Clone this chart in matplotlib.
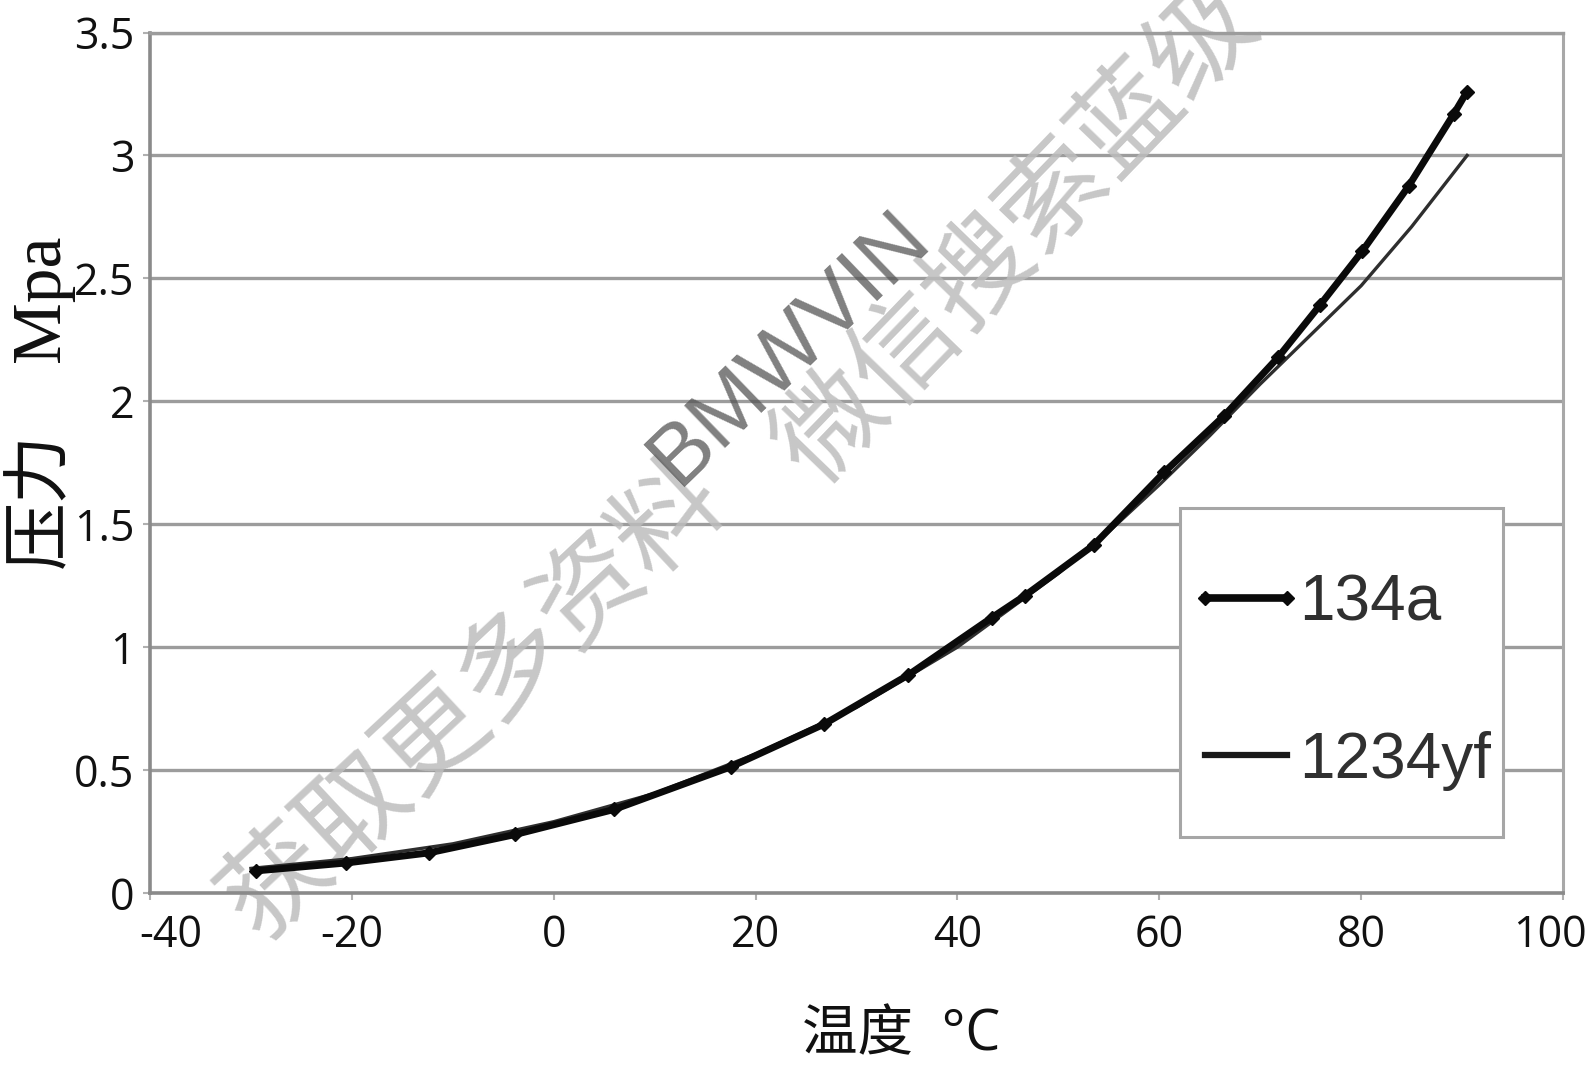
import numpy as np
import matplotlib.pyplot as plt
from matplotlib.patches import Rectangle
from matplotlib.lines import Line2D
from matplotlib.legend_handler import HandlerLine2D
from matplotlib.transforms import ScaledTranslation

# saturation pressure vs temperature for the two refrigerants
temp_134a = [-29.5, -20.6, -12.4, -3.8, 6.0, 17.6, 26.8, 35.1, 43.4, 46.7,
             53.5, 60.5, 66.4, 71.8, 75.9, 80.1, 84.7, 89.2, 90.5]
p_134a = [0.09, 0.122, 0.163, 0.238, 0.34, 0.514, 0.687, 0.886, 1.12, 1.21,
          1.415, 1.712, 1.94, 2.18, 2.39, 2.61, 2.875, 3.17, 3.26]

temp_1234yf = [-30, -20, -10, 0, 10, 20, 30, 40, 45, 50, 55, 60, 65, 70,
               75, 80, 85, 90.5]
p_1234yf = [0.10, 0.14, 0.20, 0.29, 0.405, 0.565, 0.755, 1.0, 1.15, 1.30,
            1.47, 1.66, 1.86, 2.07, 2.27, 2.47, 2.71, 3.0]

x_ticks = [-40, -20, 0, 20, 40, 60, 80, 100]
x_labels = ['-40', '-20', '0', '20', '40', '60', '80', '100']
y_ticks = [0, 0.5, 1, 1.5, 2, 2.5, 3, 3.5]
y_labels = ['0', '0.5', '1', '1.5', '2', '2.5', '3', '3.5']

W, H = 1592, 1065
fig = plt.figure(figsize=(W / 100, H / 100), dpi=100)
ax = fig.add_axes([150 / W, 1 - 893 / H, (1563 - 150) / W, (893 - 32.5) / H])

ax.set_xlim(-40, 100)
ax.set_ylim(0, 3.5)

# horizontal grid
for yv in y_ticks[1:]:
    ax.axhline(yv, color='#9c9c9c', lw=2.4, zorder=1)

ax.plot(temp_1234yf, p_1234yf, color='#2e2e2e', lw=2.4, zorder=3, label='1234yf')
ax.plot(temp_134a, p_134a, color='#0a0a0a', lw=5, marker='D', ms=7,
        zorder=4, label='134a')

for side in ['left', 'bottom']:
    ax.spines[side].set_color('#8a8a8a')
    ax.spines[side].set_linewidth(2.6)
ax.spines['top'].set_color('#9c9c9c')
ax.spines['top'].set_linewidth(2.4)
ax.spines['right'].set_color('#a8a8a8')
ax.spines['right'].set_linewidth(2.2)

tick_font = dict(family='Open Sans', size=31, color='#111111')
ax.set_xticks(x_ticks)
ax.set_xticklabels(x_labels, fontdict=tick_font)
ax.set_yticks(y_ticks)
ax.set_yticklabels(y_labels, fontdict=tick_font)
ax.tick_params(axis='both', colors='#b0b0b0', length=5, width=1.5, labelcolor='#111111')
ax.tick_params(axis='x', pad=10)
ax.tick_params(axis='y', pad=6)

# end labels are kept inside the chart area
xt = ax.get_xticklabels()
xt[0].set_transform(xt[0].get_transform() + ScaledTranslation(15 / 72, 0, fig.dpi_scale_trans))
xt[-1].set_transform(xt[-1].get_transform() + ScaledTranslation(-9.5 / 72, 0, fig.dpi_scale_trans))

# axis titles
fig.text(40 / W, 1 - 500 / H, '压力', rotation=90, ha='center', va='center',
         fontsize=49, color='#111111', family='Noto Sans CJK SC')
fig.text(42 / W, 1 - 298 / H, 'Mpa', rotation=90, ha='center', va='center',
         fontsize=50, color='#111111', family='Liberation Serif')
fig.text(901 / W, 1 - 1036 / H, '温度  °C', ha='center', va='center',
         fontsize=40, color='#111111', family=['Open Sans', 'Noto Sans CJK SC'])

# legend box
ax.add_patch(Rectangle((1180 / W, 1 - 837 / H), 323 / W, 329 / H,
                       transform=fig.transFigure, facecolor='white',
                       edgecolor='#a6a6a6', lw=2.2, clip_on=False, zorder=6))
handles, labels = ax.get_legend_handles_labels()
leg = ax.legend(handles[::-1], labels[::-1], loc='center left',
                bbox_to_anchor=(1205 / W, 1 - 682 / H), bbox_transform=fig.transFigure,
                frameon=False, numpoints=2, handlelength=1.28, handletextpad=0.2,
                labelspacing=1.52, borderpad=0, borderaxespad=0,
                handler_map={Line2D: HandlerLine2D(marker_pad=0)},
                prop=dict(family='Liberation Sans', size=46))
leg.set_zorder(7)
for t in leg.get_texts():
    t.set_color('#303030')
leg.legend_handles[0].set_linewidth(5.5)
leg.legend_handles[1].set_linewidth(4.5)
leg.legend_handles[1].set_color('#1a1a1a')

# diagonal watermark
wm = dict(transform=fig.transFigure, ha='center', va='center', rotation_mode='anchor',
          clip_on=False, family='Noto Sans CJK SC', zorder=2)
ax.text(474 / W, 1 - 700 / H, '获取更多资料', rotation=43, fontsize=77,
        color='#bdbdbd', alpha=0.85, **wm)
ax.text(1017 / W, 1 - 235 / H, '微信搜索蓝级', rotation=46, fontsize=77,
        color='#bdbdbd', alpha=0.85, **wm)
wm['family'] = 'Liberation Sans'
ax.text(790 / W, 1 - 348 / H, 'BMWVIN', rotation=44, fontsize=62,
        color='#555555', alpha=0.75, **wm)

fig.savefig('out.png', dpi=100, facecolor='white')
